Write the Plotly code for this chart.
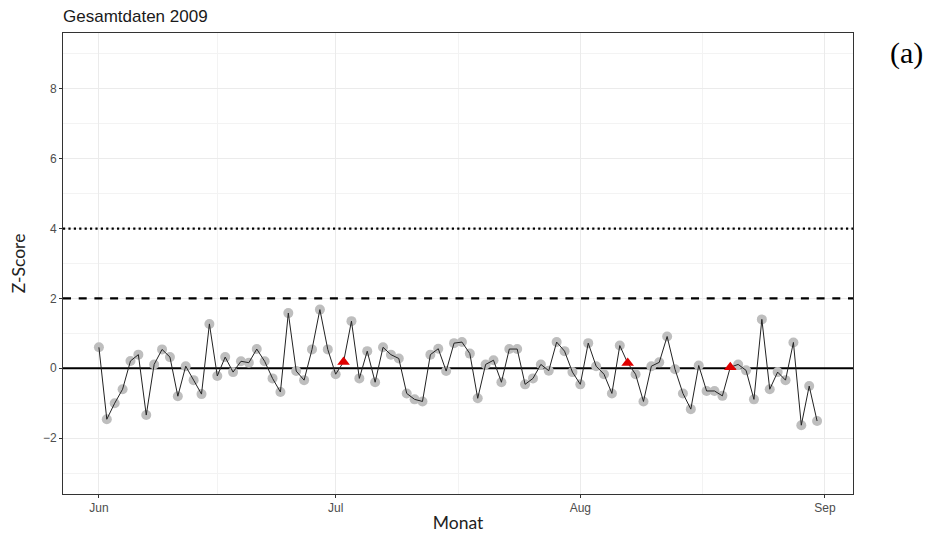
import pandas as pd
import plotly.graph_objects as go

# Daily z-scores, 1 June - 31 August 2009
dates = pd.date_range("2009-06-01", "2009-08-31", freq="D")
z_jun = [0.60, -1.46, -1.00, -0.60, 0.21, 0.39, -1.34, 0.11, 0.54, 0.32,
         -0.80, 0.06, -0.34, -0.74, 1.27, -0.22, 0.32, -0.11, 0.20, 0.16,
         0.55, 0.20, -0.29, -0.68, 1.58, -0.08, -0.34, 0.54, 1.68, 0.54]
z_jul = [-0.17, 0.18, 1.35, -0.29, 0.49, -0.40, 0.60, 0.39, 0.28, -0.72,
         -0.89, -0.95, 0.39, 0.56, -0.08, 0.72, 0.75, 0.42, -0.86, 0.11,
         0.23, -0.40, 0.55, 0.55, -0.46, -0.29, 0.11, -0.07, 0.75, 0.49, -0.11]
z_aug = [-0.46, 0.72, 0.06, -0.17, -0.72, 0.65, 0.15, -0.17, -0.95, 0.06,
         0.17, 0.91, -0.03, -0.72, -1.17, 0.08, -0.65, -0.65, -0.79, 0.03,
         0.11, -0.06, -0.89, 1.40, -0.60, -0.11, -0.34, 0.74, -1.63, -0.51, -1.51]
z_scores = z_jun + z_jul + z_aug

# Days flagged with a red triangle
flag_days = ["2009-07-02", "2009-08-07", "2009-08-20"]

# Reference thresholds
thresholds = [0, 2, 4]
threshold_dash = ["solid", "8px,7.7px", "2.2px,3.2px"]

month_ticks = ["2009-06-01", "2009-07-01", "2009-08-01", "2009-09-01"]
month_labels = ["Jun", "Jul", "Aug", "Sep"]

df = pd.DataFrame({"date": dates, "z": z_scores})
flag_mask = df["date"].isin(pd.to_datetime(flag_days))

# minor grid halfway between month starts
mt = pd.to_datetime(month_ticks)
minor_x = [mt[i] + (mt[i + 1] - mt[i]) / 2 for i in range(len(mt) - 1)]

# x range padded like ggplot's default expansion
x_start = df["date"].min() - pd.Timedelta(days=4.55)
x_end = df["date"].max() + pd.Timedelta(days=4.55)

fig = go.Figure()

# horizontal reference lines across the whole panel
for yv, dash in zip(thresholds, threshold_dash):
    fig.add_trace(go.Scatter(
        x=[x_start, x_end], y=[yv, yv], mode="lines",
        line=dict(color="black", width=2.2, dash=dash),
        hoverinfo="skip", showlegend=False))

fig.add_trace(go.Scatter(
    x=df.loc[~flag_mask, "date"], y=df.loc[~flag_mask, "z"], mode="markers",
    marker=dict(color="#bebebe", size=10), hoverinfo="skip", showlegend=False))
fig.add_trace(go.Scatter(
    x=df["date"], y=df["z"], mode="lines",
    line=dict(color="#222222", width=1), showlegend=False))
fig.add_trace(go.Scatter(
    x=df.loc[flag_mask, "date"], y=df.loc[flag_mask, "z"], mode="markers",
    marker=dict(color="#e00000", size=11, symbol="triangle-up"),
    showlegend=False))

tick_font = dict(family="Liberation Sans, Arial, sans-serif", size=12, color="#4d4d4d")
axis_title_font = dict(family="Lato, sans-serif", size=17.5, color="#222222")

fig.update_layout(
    width=930, height=540,
    margin=dict(l=63, r=77, t=33, b=46),
    paper_bgcolor="white", plot_bgcolor="white",
    xaxis=dict(
        type="date", range=[x_start, x_end], automargin=False,
        tickmode="array", tickvals=month_ticks, ticktext=month_labels,
        ticks="outside", ticklen=3, tickcolor="#333333", tickwidth=1,
        tickfont=tick_font,
        showgrid=True, gridcolor="#ebebeb", gridwidth=1,
        minor=dict(tickvals=minor_x, showgrid=True, gridcolor="#f3f3f3",
                   gridwidth=1, ticks=""),
        showline=True, linecolor="#333333", linewidth=1, mirror=True,
        zeroline=False,
        title=dict(text="Monat", standoff=2, font=axis_title_font),
    ),
    yaxis=dict(
        range=[-3.6, 9.6], automargin=False,
        tickmode="array", tickvals=[-2, 0, 2, 4, 6, 8],
        ticks="outside", ticklen=3, tickcolor="#333333", tickwidth=1,
        tickfont=tick_font,
        showgrid=True, gridcolor="#ebebeb", gridwidth=1,
        minor=dict(tickvals=[-3, -1, 1, 3, 5, 7, 9], showgrid=True,
                   gridcolor="#f3f3f3", gridwidth=1, ticks=""),
        showline=True, linecolor="#333333", linewidth=1, mirror=True,
        zeroline=False,
        title=dict(text="Z-Score", standoff=12, font=axis_title_font),
    ),
    title=dict(text="Gesamtdaten 2009", x=63 / 930, xanchor="left",
               y=1 - 16 / 540, yanchor="middle",
               font=dict(family="Liberation Sans, Arial, sans-serif", size=17,
                         color="#1a1a1a")),
    annotations=[dict(text="(a)", xref="paper", yref="paper",
                      x=1, xanchor="left", xshift=35, y=1, yanchor="middle",
                      yshift=-19.5, showarrow=False,
                      font=dict(family="Liberation Serif, Times New Roman, serif",
                                size=30, color="black"))],
)

fig.write_html("out.html")
